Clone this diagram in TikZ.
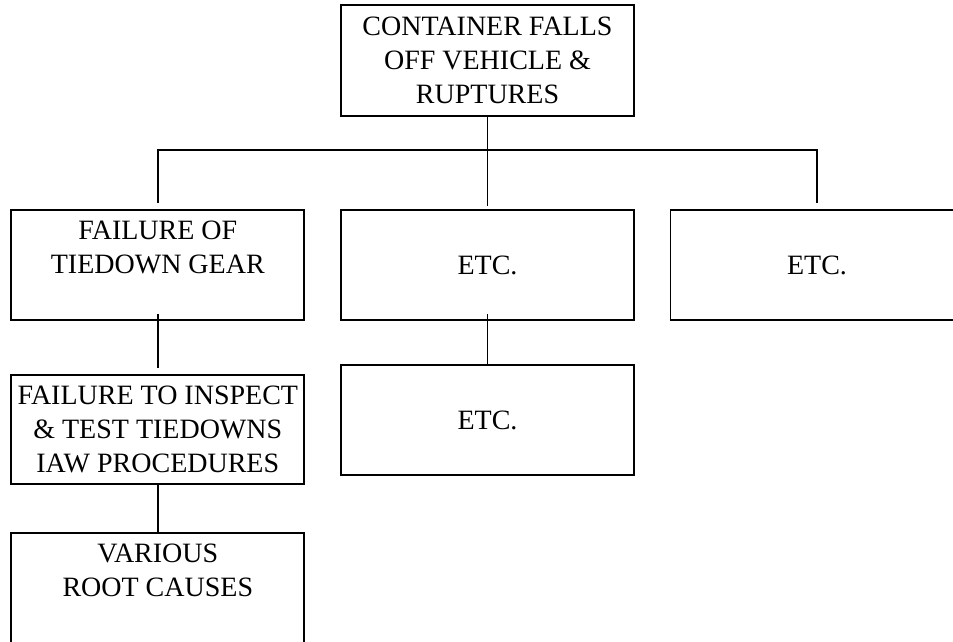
\documentclass[tikz,border=0pt]{standalone}
\usepackage{fontspec}
\setmainfont{Liberation Serif}
% text block whose lines start at the top of a fixed-height box
\newcommand\topaligned[2]{\parbox[c][#1][t]{290pt}{\centering #2}}
\begin{document}
\begin{tikzpicture}[x=1pt, y=-1pt,
  box/.style={draw, line width=1.9pt, minimum width=293pt, minimum height=110pt,
    inner sep=0pt, align=center, font=\fontsize{28}{34}\selectfont},
  link/.style={line width=1.5pt, line join=miter}]
\useasboundingbox (0,0) rectangle (953,642);
\clip (0,0) rectangle (953,642);
\fill[white] (0,0) rectangle (953,642);

% event at the top of the tree
\node[box, minimum height=111pt] (top) at (487.5,60.5)
  {CONTAINER FALLS\\OFF VEHICLE \&\\RUPTURES};

% first level of causes
\node[box] (L1) at (157.8,265) {\topaligned{89pt}{FAILURE OF\\TIEDOWN GEAR}};
\node[box] (M1) at (487.5,265) {ETC.};
\node[box] (R1) at (817,265) {ETC.};

% second level
\node[box, minimum height=109pt] (L2) at (157.8,429.5)
  {FAILURE TO INSPECT\\\& TEST TIEDOWNS\\IAW PROCEDURES};
\node[box] (M2) at (487.5,420) {ETC.};

% root causes, running off the bottom
\node[box, minimum height=130pt] (L3) at (157.8,598)
  {\topaligned{109pt}{VARIOUS\\ROOT CAUSES}};

% connectors
\coordinate (bus) at (0,150);
\draw[link] (top.south) -- (top.south |- bus);
\draw[link] ([yshift=6pt]L1.north) |- (R1.north |- bus) -- ([yshift=6pt]R1.north);
\draw[link] (M1.north |- bus) -- ([yshift=3pt]M1.north);
\draw[link] ([yshift=7pt]L1.south) -- ([yshift=6pt]L2.north);
\draw[link] ([yshift=7pt]M1.south) -- (M2.north);
\draw[link] (L2.south) -- (L3.north);
\end{tikzpicture}
\end{document}
